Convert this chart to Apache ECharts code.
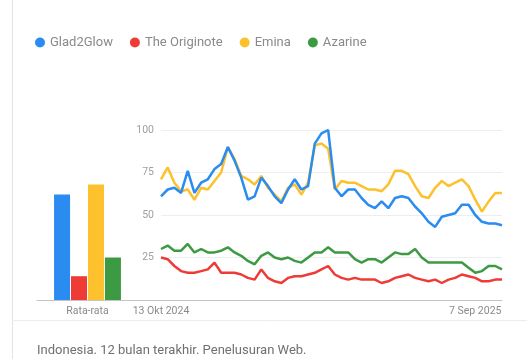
<!DOCTYPE html>
<html>
<head>
<meta charset="utf-8">
<script src="https://cdn.jsdelivr.net/npm/echarts@6/dist/echarts.min.js"></script>
<style>
html,body{margin:0;padding:0;background:#fff;}
#c{width:527px;height:359px;}
</style>
</head>
<body>
<div id="c"></div>
<script>
const seriesNames = ['Glad2Glow', 'The Originote', 'Emina', 'Azarine'];
const colors = ['#2a8cf0', '#ef3b36', '#fcc12d', '#3c9a43'];
const averages = [62, 14, 68, 25];
const barCategory = ['Rata-rata'];
const yTicks = [25, 50, 75, 100];

const glad2glow = [61,65,66,63,76,63,69,71,77,80,90,82,72,59,61,72,67,61,57,65,71,65,67,92,98,100,66,61,65,65,60,56,54,58,54,60,61,60,55,51,46,43,49,50,51,56,56,50,46,45,45,44];
const originote = [25,24,20,17,16,16,17,18,22,16,16,16,15,13,12,18,13,11,10,13,14,14,15,16,18,20,15,13,12,13,12,12,12,10,11,13,14,15,13,12,11,12,10,12,13,15,14,13,11,11,12,12];
const emina = [71,78,69,64,65,59,66,65,70,75,90,83,73,71,68,73,66,62,58,66,68,62,69,91,92,89,65,70,69,69,67,65,65,64,68,76,76,74,67,61,60,66,70,67,69,71,67,59,52,58,63,63];
const azarine = [30,32,29,29,33,28,30,28,28,29,31,28,26,23,21,26,28,25,24,25,23,22,25,28,28,31,28,28,28,24,22,24,24,22,25,28,27,27,30,25,22,22,22,22,22,22,19,16,17,20,20,18];

// weekly dates from 13 Okt 2024
const months = ['Jan','Feb','Mar','Apr','Mei','Jun','Jul','Agu','Sep','Okt','Nov','Des'];
const dates = [];
{
  const d0 = new Date(Date.UTC(2024, 9, 13));
  for (let i = 0; i < glad2glow.length; i++) {
    const d = new Date(d0.getTime() + i * 7 * 86400000);
    dates.push(d.getUTCDate() + ' ' + months[d.getUTCMonth()] + ' ' + d.getUTCFullYear());
  }
}
const shownDateLabels = ['13 Okt 2024', '7 Sep 2025'];

const lineData = [glad2glow, originote, emina, azarine];

const chart = echarts.init(document.getElementById('c'), null, {renderer: 'canvas'});
const font = 'Roboto, "Noto Sans", Arial, sans-serif';

const series = [];
seriesNames.forEach((n, k) => {
  series.push({
    name: n, type: 'bar', xAxisIndex: 0, yAxisIndex: 0,
    data: [averages[k]], barWidth: 16, barGap: '6%',
    itemStyle: {color: colors[k]}, silent: true
  });
});
seriesNames.forEach((n, k) => {
  series.push({
    name: n, type: 'line', xAxisIndex: 1, yAxisIndex: 1,
    data: lineData[k], showSymbol: false, smooth: false,
    lineStyle: {color: colors[k], width: 2.5}, itemStyle: {color: colors[k]},
    z: 10 - k
  });
});

chart.setOption({
  animation: false,
  textStyle: {fontFamily: font},
  legend: {
    data: seriesNames, left: 30, top: 31, icon: 'circle', itemWidth: 10, itemHeight: 10,
    itemGap: 17, textStyle: {color: '#8a8a8a', fontSize: 13, fontFamily: font}
  },
  grid: [
    {left: 37, width: 101, top: 130, height: 170},
    {left: 161, right: 25, top: 130, height: 170}
  ],
  xAxis: [
    {gridIndex: 0, type: 'category', data: barCategory,
      axisLine: {lineStyle: {color: '#c4c4c4', width: 1}}, axisTick: {show: false},
      axisLabel: {color: '#8a8a8a', fontSize: 10.5, margin: 6, fontFamily: font}},
    {gridIndex: 1, type: 'category', data: dates, boundaryGap: false,
      axisLine: {lineStyle: {color: '#c4c4c4', width: 1}}, axisTick: {show: false},
      axisLabel: {color: '#8a8a8a', fontSize: 10.5, margin: 6, fontFamily: font,
        interval: (i, v) => shownDateLabels.indexOf(v) >= 0}}
  ],
  yAxis: [
    {gridIndex: 0, type: 'value', min: 0, max: 100, show: false},
    {gridIndex: 1, type: 'value', min: 0, max: 100, interval: 25,
      axisLine: {show: false}, axisTick: {show: false},
      axisLabel: {color: '#a0a0a0', fontSize: 10.5, margin: 7, fontFamily: font,
        formatter: v => yTicks.indexOf(v) >= 0 ? String(v) : ''},
      splitLine: {lineStyle: {color: '#eeeeee', width: 1}}}
  ],
  graphic: [
    {type: 'line', shape: {x1: 12.5, y1: 0, x2: 12.5, y2: 359}, style: {stroke: '#e4e4e4', lineWidth: 1}, silent: true},
    {type: 'line', shape: {x1: 12, y1: 320.5, x2: 527, y2: 320.5}, style: {stroke: '#ececec', lineWidth: 1}, silent: true},
    {type: 'line', shape: {x1: 138, y1: 300.5, x2: 161, y2: 300.5}, style: {stroke: '#c4c4c4', lineWidth: 1}, silent: true},
    {type: 'text', left: 37, top: 344, style: {text: 'Indonesia. 12 bulan terakhir. Penelusuran Web.', fill: '#707070', font: '13px ' + font}, silent: true}
  ],
  series: series
});
</script>
</body>
</html>
